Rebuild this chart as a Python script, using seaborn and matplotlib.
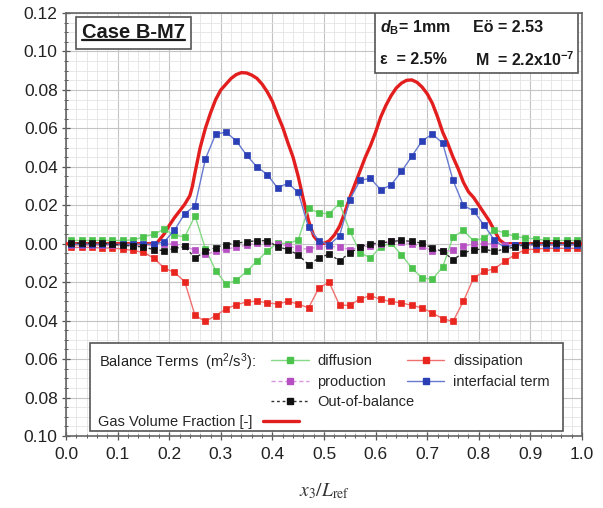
import numpy as np
import pandas as pd
import matplotlib
matplotlib.use("Agg")
import matplotlib.pyplot as plt
import seaborn as sns
from matplotlib.lines import Line2D
from matplotlib.patches import Rectangle
from matplotlib.ticker import MultipleLocator, FuncFormatter

# ---------------- data ----------------
x_pos = np.round(np.arange(0.01, 1.0, 0.02), 2)  # 50 sample positions

diffusion = [0.0017, 0.0017, 0.0017, 0.0017, 0.0017, 0.0017, 0.0020, 0.0035, 0.0050, 0.0075,
             0.0045, 0.0035, 0.0145, -0.0025, -0.0140, -0.0210, -0.0190, -0.0144, -0.0090, -0.0038,
             0.0005, 0.0000, 0.0020, 0.0185, 0.0160, 0.0156, 0.0210, 0.0066, -0.0046, -0.0074,
             -0.0015, 0.0003, -0.0057, -0.0126, -0.0178, -0.0185, -0.0121, 0.0035, 0.0069, 0.0015,
             0.0030, 0.0073, 0.0056, 0.0038, 0.0030, 0.0025, 0.0017, 0.0017, 0.0017, 0.0017]

dissipation = [-0.0019, -0.0019, -0.0019, -0.0022, -0.0022, -0.0028, -0.0035, -0.0045, -0.0074, -0.0126,
               -0.0149, -0.0197, -0.0373, -0.0404, -0.0374, -0.0339, -0.0317, -0.0303, -0.0298, -0.0308,
               -0.0313, -0.0300, -0.0313, -0.0334, -0.0230, -0.0200, -0.0320, -0.0320, -0.0287, -0.0270,
               -0.0290, -0.0300, -0.0308, -0.0320, -0.0334, -0.0360, -0.0390, -0.0404, -0.0300, -0.0178,
               -0.0144, -0.0130, -0.0092, -0.0057, -0.0031, -0.0028, -0.0024, -0.0024, -0.0024, -0.0024]

production = [-0.0005, -0.0005, -0.0005, -0.0005, -0.0005, -0.0005, -0.0005, -0.0005, -0.0005, 0.0000,
              0.0000, -0.0014, -0.0033, -0.0055, -0.0040, -0.0028, -0.0018, -0.0008, 0.0005, 0.0005,
              -0.0002, -0.0012, -0.0024, -0.0028, -0.0014, -0.0014, -0.0017, -0.0031, -0.0019, -0.0010,
              0.0000, 0.0012, 0.0007, 0.0000, -0.0014, -0.0036, -0.0040, -0.0035, -0.0014, 0.0000,
              0.0000, 0.0000, -0.0005, -0.0005, -0.0005, -0.0005, -0.0005, -0.0005, -0.0005, -0.0005]

interfacial = [-0.0003, -0.0003, -0.0003, -0.0003, -0.0003, -0.0003, -0.0003, -0.0003, -0.0003, 0.0010,
               0.0070, 0.0156, 0.0198, 0.0440, 0.0570, 0.0580, 0.0535, 0.0460, 0.0400, 0.0360,
               0.0290, 0.0315, 0.0267, 0.0085, 0.0015, -0.0005, 0.0040, 0.0230, 0.0330, 0.0340,
               0.0280, 0.0306, 0.0376, 0.0454, 0.0535, 0.0570, 0.0523, 0.0330, 0.0200, 0.0170,
               0.0097, 0.0020, -0.0020, -0.0005, -0.0005, -0.0005, -0.0005, -0.0005, -0.0005, -0.0005]

out_of_balance = [0.0003, 0.0003, 0.0003, 0.0003, -0.0003, -0.0008, -0.0012, -0.0017, -0.0030, -0.0036,
                  -0.0025, -0.0014, -0.0074, -0.0040, -0.0020, -0.0004, 0.0003, 0.0010, 0.0016, 0.0016,
                  -0.0015, -0.0031, -0.0057, -0.0109, -0.0074, -0.0054, -0.0088, -0.0048, -0.0017, 0.0000,
                  0.0003, 0.0012, 0.0017, 0.0012, 0.0003, -0.0022, -0.0040, -0.0083, -0.0048, -0.0031,
                  -0.0028, -0.0040, -0.0028, -0.0017, -0.0005, 0.0003, 0.0003, 0.0003, 0.0003, 0.0003]

gas_x = [0.00, 0.05, 0.10, 0.15, 0.175, 0.19, 0.20, 0.21, 0.22, 0.23, 0.24, 0.245, 0.25, 0.26, 0.27,
         0.28, 0.29, 0.30, 0.31, 0.32, 0.33, 0.34, 0.35, 0.36, 0.37, 0.38, 0.39, 0.40, 0.41, 0.42,
         0.43, 0.44, 0.45, 0.46, 0.47, 0.48, 0.49, 0.495, 0.50, 0.51, 0.52, 0.53, 0.54, 0.55, 0.56,
         0.57, 0.58, 0.59, 0.60, 0.61, 0.62, 0.63, 0.64, 0.65, 0.66, 0.67, 0.68, 0.69, 0.70, 0.71,
         0.72, 0.73, 0.74, 0.75, 0.76, 0.77, 0.78, 0.79, 0.80, 0.81, 0.82, 0.83, 0.84, 0.85, 0.90,
         0.95, 1.00]
gas_fraction = [0.0, 0.0, 0.0, 0.0, 0.0, 0.0050, 0.0095, 0.0135, 0.0170, 0.0205, 0.0250, 0.0300, 0.0370,
                0.0500, 0.0600, 0.0680, 0.0750, 0.0800, 0.0830, 0.0860, 0.0880, 0.0890, 0.0888, 0.0877,
                0.0860, 0.0830, 0.0790, 0.0740, 0.0670, 0.0605, 0.0525, 0.0450, 0.0350, 0.0230, 0.0120,
                0.0040, 0.0008, 0.0002, 0.0002, 0.0015, 0.0045, 0.0090, 0.0160, 0.0240, 0.0310, 0.0380,
                0.0450, 0.0510, 0.0580, 0.0660, 0.0720, 0.0770, 0.0810, 0.0835, 0.0850, 0.0852, 0.0840,
                0.0815, 0.0780, 0.0730, 0.0660, 0.0580, 0.0520, 0.0450, 0.0390, 0.0320, 0.0270, 0.0240,
                0.0200, 0.0160, 0.0120, 0.0070, 0.0020, 0.0, 0.0, 0.0, 0.0]

y_ticks = [-0.10, -0.08, -0.06, -0.04, -0.02, 0.00, 0.02, 0.04, 0.06, 0.08, 0.10, 0.12]
x_ticks = [0.0, 0.1, 0.2, 0.3, 0.4, 0.5, 0.6, 0.7, 0.8, 0.9, 1.0]

# ---------------- style ----------------
sns.set_theme(style="white")
plt.rcParams["font.family"] = ["Liberation Sans", "DejaVu Sans"]
plt.rcParams["mathtext.fontset"] = "custom"
plt.rcParams["mathtext.rm"] = "Liberation Sans"
plt.rcParams["mathtext.it"] = "Liberation Sans:italic"
plt.rcParams["mathtext.bf"] = "Liberation Sans:bold"
has_bfit = "mathtext.bfit" in plt.rcParams
if has_bfit:
    plt.rcParams["mathtext.bfit"] = "Liberation Sans:bold:italic"

df = pd.DataFrame({"x": x_pos, "diffusion": diffusion, "dissipation": dissipation,
                   "production": production, "interfacial": interfacial,
                   "oob": out_of_balance})
gas = pd.DataFrame({"x": gas_x, "gas": gas_fraction})

fig = plt.figure(figsize=(6.03, 5.08), dpi=100)
ax = fig.add_axes([0.1095, 0.1417, 0.8557, 0.8327])

C_GREEN, L_GREEN = "#4cc34c", "#86d986"
C_RED, L_RED = "#e8261f", "#f07070"
C_PURP, L_PURP = "#b54fc2", "#d896de"
C_BLUE, L_BLUE = "#2a3fb5", "#6678d0"
C_BLACK = "#111111"
C_GAS = "#e31e1e"

sns.lineplot(data=gas, x="x", y="gas", ax=ax, color=C_GAS, lw=2.4, sort=False,
             estimator=None, legend=False, zorder=3)

ms = 4.8
series = [
    ("diffusion", C_GREEN, L_GREEN, "-", 1.0),
    ("dissipation", C_RED, L_RED, "-", 1.0),
    ("production", C_PURP, L_PURP, (0, (3, 2)), 1.0),
    ("interfacial", C_BLUE, L_BLUE, "-", 1.0),
    ("oob", C_BLACK, "#333333", (0, (2, 2)), 1.0),
]
handles = {}
for i, (col, mc, lc, ls, lw) in enumerate(series):
    sns.lineplot(data=df, x="x", y=col, ax=ax, color=lc, lw=lw, linestyle=ls,
                 marker="s", markersize=ms, markerfacecolor=mc, markeredgecolor=mc,
                 markeredgewidth=0.5, sort=False, estimator=None, legend=False,
                 zorder=4 + i * 0.1)
    handles[col] = Line2D([], [], color=lc, lw=lw, linestyle=ls, marker="s",
                          markersize=ms - 0.8, markerfacecolor=mc, markeredgecolor=mc)

# ---------------- axes ----------------
ax.set_xlim(0, 1)
ax.set_ylim(-0.10, 0.12)
ax.set_xticks(x_ticks)
ax.set_yticks(y_ticks)
ax.xaxis.set_minor_locator(MultipleLocator(0.02))
ax.yaxis.set_minor_locator(MultipleLocator(0.005))
ax.xaxis.set_major_formatter(FuncFormatter(lambda v, p: f"{v:.1f}"))
ax.yaxis.set_major_formatter(FuncFormatter(lambda v, p: f"{abs(v):.2f}"))
ax.grid(True, which="major", color="#c4c4c4", lw=0.8, zorder=0)
ax.grid(True, which="minor", color="#e4e4e4", lw=0.6, zorder=0)
ax.set_axisbelow(True)
ax.tick_params(which="both", direction="inout", bottom=True, left=True,
               top=False, right=False, color="#555555", labelcolor="#222222")
ax.tick_params(which="major", length=6, width=0.9, labelsize=12.5)
ax.tick_params(which="minor", length=3, width=0.7)
ax.tick_params(axis="y", pad=3)
ax.tick_params(axis="x", pad=5)
for s in ax.spines.values():
    s.set_color("#666666")
    s.set_linewidth(1.2)
ax.set_ylabel("")
ax.set_xlabel(r"$x_3/L_{\rm ref}$", math_fontfamily="stix", fontsize=14,
              color="#333333", labelpad=14)

# ---------------- legend ----------------
lfs = 10.5
ax.add_patch(Rectangle((0.0465, 0.012), 0.9165, 0.208, transform=ax.transAxes,
                       facecolor="white", edgecolor="#555555", lw=1.2, zorder=6))
ax.text(0.064, 0.175, r"Balance Terms  (m$^2$/s$^3$):", transform=ax.transAxes,
        fontsize=lfs, va="center", ha="left", color="#222222", zorder=7)
common = dict(frameon=False, fontsize=lfs, handlelength=2.6, handletextpad=0.6,
              labelspacing=0.43, borderpad=0, borderaxespad=0, loc="upper left",
              bbox_transform=ax.transAxes)
legA = ax.legend([handles["diffusion"], handles["production"], handles["oob"]],
                 ["diffusion", "production", "Out-of-balance"],
                 bbox_to_anchor=(0.397, 0.193), **common)
legA.set_zorder(8)
ax.add_artist(legA)
legB = ax.legend([handles["dissipation"], handles["interfacial"]],
                 ["dissipation", "interfacial term"],
                 bbox_to_anchor=(0.660, 0.193), **common)
legB.set_zorder(8)
ax.add_artist(legB)
legC = ax.legend([Line2D([], [], color=C_GAS, lw=2.4)], ["Gas Volume Fraction [-]"],
                 loc="upper left", bbox_to_anchor=(0.062, 0.0506), bbox_transform=ax.transAxes,
                 frameon=False, fontsize=lfs, handlelength=2.5, handletextpad=0.7,
                 markerfirst=False, borderpad=0, borderaxespad=0)
legC.set_zorder(8)

# ---------------- annotation boxes ----------------
case_t = ax.text(0.031, 0.953, "Case B-M7", transform=ax.transAxes, fontsize=14.5,
                 fontweight="bold", va="center", ha="left", color="#1a1a1a", zorder=9,
                 bbox=dict(boxstyle="square,pad=0.32", fc="white", ec="#555555", lw=1.2))

ax.add_patch(Rectangle((0.599, 0.858), 0.393, 0.142, transform=ax.transAxes,
                       facecolor="white", edgecolor="#555555", lw=1.2, zorder=8))
dtxt = r"$\mathbfit{d}_{\mathbf{B}}$= 1mm" if has_bfit else r"$\mathit{d}_{\mathbf{B}}$= 1mm"
pfs = 11.5
ax.text(0.6085, 0.965, dtxt, transform=ax.transAxes, fontsize=pfs, fontweight="bold",
        va="center", ha="left", color="#1a1a1a", zorder=9)
ax.text(0.789, 0.965, "Eö = 2.53", transform=ax.transAxes, fontsize=pfs, fontweight="bold",
        va="center", ha="left", color="#1a1a1a", zorder=9)
ax.text(0.6085, 0.889, "ε  = 2.5%", transform=ax.transAxes, fontsize=pfs, fontweight="bold",
        va="center", ha="left", color="#1a1a1a", zorder=9)
ax.text(0.793, 0.889, r"M  = 2.2x10$^{\mathbf{-7}}$", transform=ax.transAxes, fontsize=pfs,
        fontweight="bold", va="center", ha="left", color="#1a1a1a", zorder=9)

# underline for the case label
fig.canvas.draw()
r = fig.canvas.get_renderer()
bb = case_t.get_window_extent(r)
inv = fig.transFigure.inverted()
(x0, y0), (x1, _) = inv.transform([(bb.x0, bb.y0), (bb.x1, bb.y0)])
yl = inv.transform([(0, bb.y0 + 0.12 * bb.height)])[0][1]
fig.add_artist(Line2D([x0, x1], [yl, yl], transform=fig.transFigure, color="#1a1a1a",
                      lw=1.6, zorder=10))

fig.savefig("out.png", dpi=100)
